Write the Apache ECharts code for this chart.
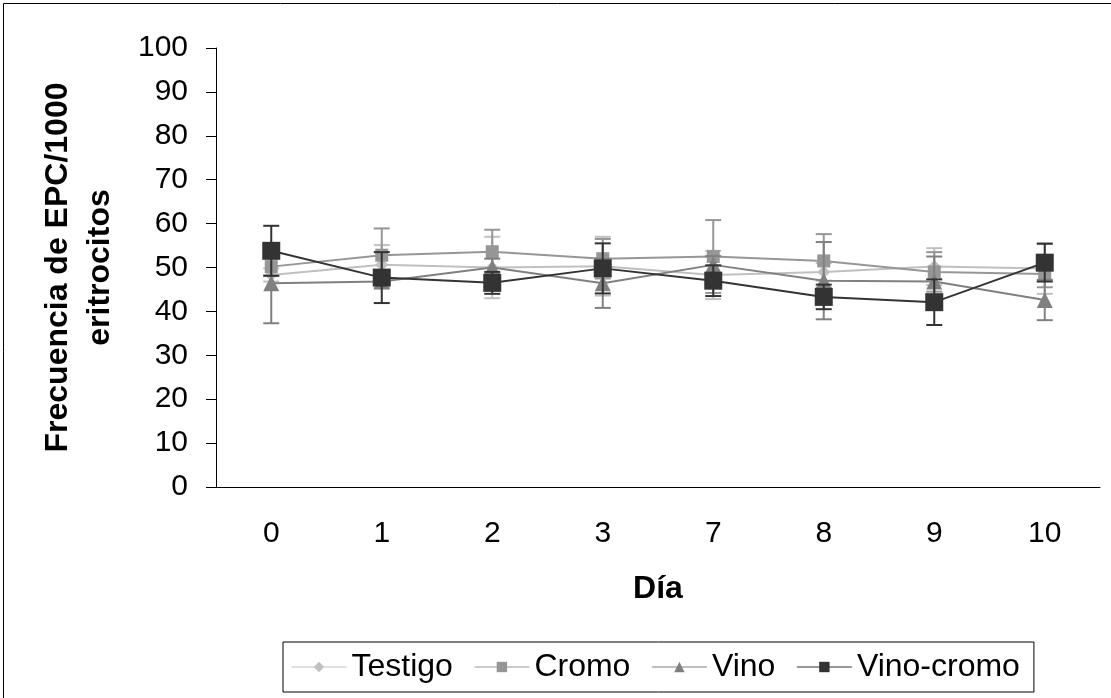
<!DOCTYPE html>
<html>
<head>
<meta charset="utf-8">
<script src="https://cdn.jsdelivr.net/npm/echarts@6/dist/echarts.min.js"></script>
<style>
  html, body { margin: 0; padding: 0; background: #fff; }
  #chart { width: 1111px; height: 698px; }
</style>
</head>
<body>
<div id="chart"></div>
<script>
const days = ['0', '1', '2', '3', '7', '8', '9', '10']

const testigo = [48.3, 50.6, 50.0, 50.3, 48.3, 49.0, 50.2, 49.8]
const testigoErr = [1.5, 4.5, 7.0, 6.7, 5.5, 2.0, 4.2, 5.8]
const cromo = [50.2, 52.8, 53.6, 52.0, 52.5, 51.5, 49.0, 48.5]
const cromoErr = [2.0, 6.1, 5.0, 4.5, 8.3, 6.1, 4.5, 3.0]
const vino = [46.4, 46.8, 50.0, 46.4, 50.6, 47.0, 46.8, 42.6]
const vinoErr = [9.1, 1.5, 2.0, 5.6, 2.0, 8.8, 5.7, 4.6]
const vinoCromo = [53.8, 47.7, 46.5, 49.8, 47.0, 43.3, 42.1, 51.1]
const vinoCromoErr = [5.7, 5.8, 2.5, 5.7, 3.5, 2.8, 5.2, 4.3]

const font = 'Liberation Sans, Arial, sans-serif'

// error bars: vertical line + two caps, drawn through the axes
const errorBars = (name, vals, errs, color, z) => ({
    type: 'custom',
    name: name + '-err',
    z: z,
    data: vals.map((v, i) => [i, v, errs[i]]),
    renderItem: (params, api) => {
        const x = api.value(0)
        const y = api.value(1)
        const e = api.value(2)
        const hi = api.coord([x, y + e])
        const lo = api.coord([x, y - e])
        const w = 8
        const style = { stroke: color, lineWidth: 2 }
        return {
            type: 'group',
            children: [
                { type: 'line', shape: { x1: hi[0], y1: hi[1], x2: lo[0], y2: lo[1] }, style },
                { type: 'line', shape: { x1: hi[0] - w, y1: hi[1], x2: hi[0] + w, y2: hi[1] }, style },
                { type: 'line', shape: { x1: lo[0] - w, y1: lo[1], x2: lo[0] + w, y2: lo[1] }, style }
            ]
        }
    }
})

const lineSeries = (name, vals, color, symbol, size, z) => ({
    name: name,
    type: 'line',
    z: z,
    data: vals,
    symbol: symbol,
    symbolSize: size,
    itemStyle: { color: color },
    lineStyle: { color: color, width: 2 },
    emphasis: { disabled: true }
})

const chart = echarts.init(document.getElementById('chart'), null, { renderer: 'canvas' })
chart.setOption({
    animation: false,
    backgroundColor: '#fff',
    graphic: [
        {
            type: 'rect',
            shape: { x: 3.5, y: 3.5, width: 1200, height: 800 },
            style: { fill: 'none', stroke: '#000', lineWidth: 1 },
            z: -1
        }
    ],
    grid: { left: 216, right: 11, top: 48, bottom: 211 },
    legend: {
        data: ['Testigo', 'Cromo', 'Vino', 'Vino-cromo'],
        left: 283,
        top: 642,
        padding: [9, 14, 9, 8],
        itemWidth: 55,
        itemHeight: 13,
        itemGap: 21,
        borderColor: '#000',
        borderWidth: 1,
        lineStyle: { width: 1 },
        textStyle: { fontFamily: font, fontSize: 32, color: '#000' }
    },
    xAxis: {
        type: 'category',
        data: days,
        name: 'Día',
        nameLocation: 'middle',
        nameGap: 86,
        nameTextStyle: { fontFamily: font, fontSize: 32, fontWeight: 'bold', color: '#000' },
        axisLine: { lineStyle: { color: '#000', width: 1 } },
        axisTick: { length: 10, lineStyle: { color: '#000' } },
        axisLabel: { margin: 32, fontFamily: font, fontSize: 30, color: '#000' }
    },
    yAxis: {
        type: 'value',
        min: 0,
        max: 100,
        interval: 10,
        name: 'Frecuencia de EPC/1000\neritrocitos',
        nameLocation: 'middle',
        nameGap: 95,
        nameTextStyle: { fontFamily: font, fontSize: 32, fontWeight: 'bold', color: '#000', lineHeight: 42 },
        splitLine: { show: false },
        axisLine: { show: true, lineStyle: { color: '#000', width: 1 } },
        axisTick: { show: true, length: 10, lineStyle: { color: '#000' } },
        axisLabel: { margin: 28, fontFamily: font, fontSize: 30, color: '#000' }
    },
    series: [
        errorBars('Testigo', testigo, testigoErr, '#c0c0c0', 2),
        lineSeries('Testigo', testigo, '#c0c0c0', 'diamond', 13, 3),
        errorBars('Cromo', cromo, cromoErr, '#969696', 4),
        lineSeries('Cromo', cromo, '#969696', 'rect', 13, 5),
        errorBars('Vino', vino, vinoErr, '#808080', 6),
        lineSeries('Vino', vino, '#808080', 'triangle', 16, 7),
        errorBars('Vino-cromo', vinoCromo, vinoCromoErr, '#333333', 8),
        lineSeries('Vino-cromo', vinoCromo, '#333333', 'rect', 18, 9)
    ]
})
</script>
</body>
</html>
